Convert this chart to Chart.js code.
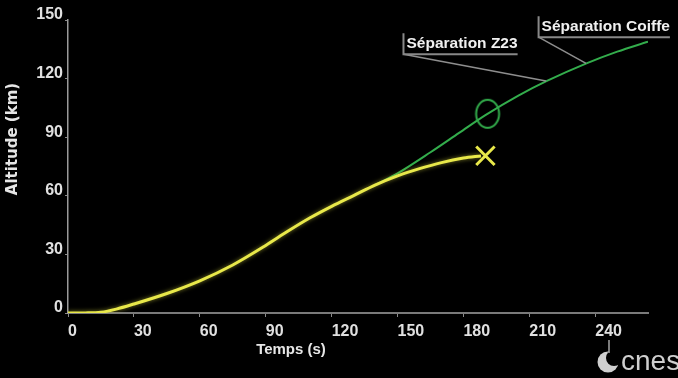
<!DOCTYPE html>
<html lang="fr">
<head>
<meta charset="utf-8">
<title>Altitude (km) / Temps (s)</title>
<script src="https://cdn.jsdelivr.net/npm/chart.js@4.4.1/dist/chart.umd.min.js"></script>
<style>
    html, body { margin: 0; padding: 0; background: #000; }
    #wrap { width: 678px; height: 378px; }
</style>
</head>
<body>
<div id="wrap"><canvas id="altitudeChart" width="678" height="378"></canvas></div>
<script>
// Flight (yellow) - measured trajectory
const flightTime = [0, 8, 15, 22, 30, 45, 60, 75, 90, 100, 110, 120, 130, 140, 150, 160, 170, 180, 188];
const flightAltitude = [0, 0.05, 0.4, 2.0, 4.6, 10.0, 16.5, 24.6, 34.6, 41.8, 48.6, 54.6, 60.1, 65.6, 70.2, 73.9, 77.0, 79.3, 80.4];

// Nominal trajectory (green)
const nominalTime = [140, 150, 165, 178, 190, 205, 218, 236, 250, 264];
const nominalAltitude = [65.6, 71.5, 82.3, 92.2, 101.3, 111.3, 118.8, 127.8, 133.8, 138.9];

// End of flight (X) and Z23 separation point (circle)
const endTime = [190];
const endAltitude = [80.5];
const circleTime = [191];
const circleAltitude = [102];

// Events pointed at on the nominal curve
const eventLabels = ["Séparation Z23", "Séparation Coiffe"];
const eventLabelTime = [152.7, 214.2];
const eventLabelAltitude = [132.5, 141.2];
const eventTime = [217.6, 235.8];
const eventAltitude = [118.8, 127.8];

// Axes
const xTickValues = [0, 30, 60, 90, 120, 150, 180, 210, 240];
const yTickValues = [0, 30, 60, 90, 120, 150];
const xTitle = "Temps (s)";
const yTitle = "Altitude (km)";

document.addEventListener("DOMContentLoaded", function () {
    const ctx = document.getElementById("altitudeChart").getContext("2d");

    const toPoints = (xs, ys) => xs.map((x, i) => ({ x: x, y: ys[i] }));

    // small green ellipse used as point style
    const ellipse = document.createElement("canvas");
    ellipse.width = 28;
    ellipse.height = 32;
    const ec = ellipse.getContext("2d");
    ec.strokeStyle = "#33ad4c";
    ec.lineWidth = 2;
    ec.beginPath();
    ec.ellipse(14, 16, 11.5, 14, 0, 0, Math.PI * 2);
    ec.stroke();

    const decorPlugin = {
        id: "decor",
        beforeDraw(chart) {
            const c = chart.ctx;
            c.save();
            c.fillStyle = "#000";
            c.fillRect(0, 0, chart.width, chart.height);
            c.restore();
        },
        beforeDatasetDraw(chart, args) {
            if (args.index === 1) {
                chart.ctx.save();
                chart.ctx.shadowColor = "rgba(235, 235, 70, 0.55)";
                chart.ctx.shadowBlur = 4;
            }
        },
        afterDatasetDraw(chart, args) {
            if (args.index === 1) chart.ctx.restore();
        },
        afterDraw(chart) {
            const c = chart.ctx;
            const xs = chart.scales.x;
            const ys = chart.scales.y;
            c.save();

            // axis titles
            c.fillStyle = "#e6e6e6";
            c.textAlign = "center";
            c.textBaseline = "middle";
            c.font = 'bold 15px "DejaVu Sans"';
            c.save();
            c.translate(13, 139);
            c.rotate(-Math.PI / 2);
            c.fillText(yTitle, 0, 0);
            c.restore();
            c.font = 'bold 15px "Liberation Sans"';
            c.fillText(xTitle, 291, 350);

            // event labels with leader lines
            c.font = 'bold 15.5px "Liberation Sans"';
            c.textAlign = "left";
            c.textBaseline = "alphabetic";
            for (let i = 0; i < eventLabels.length; i++)
            {
                const ax = xs.getPixelForValue(eventLabelTime[i]);
                const ay = ys.getPixelForValue(eventLabelAltitude[i]);
                const tx = xs.getPixelForValue(eventTime[i]);
                const ty = ys.getPixelForValue(eventAltitude[i]);
                const w = c.measureText(eventLabels[i]).width;

                c.strokeStyle = "#8e8e8e";
                c.lineWidth = 1.5;
                c.beginPath();
                c.moveTo(ax, ay);
                c.lineTo(tx, ty);
                c.stroke();

                c.strokeStyle = "#888";
                c.lineWidth = 2;
                c.beginPath();
                c.moveTo(ax, ay - 21);
                c.lineTo(ax, ay);
                c.lineTo(ax + w + 3, ay);
                c.stroke();

                c.fillStyle = "#f0f0f0";
                c.fillText(eventLabels[i], ax + 3, ay - 6);
            }

            // cnes logo, bottom right
            c.fillStyle = "#cfcfcf";
            c.beginPath();
            c.arc(608, 362, 10.5, 0, Math.PI * 2);
            c.fill();
            c.fillStyle = "#000";
            c.beginPath();
            c.arc(614, 358, 8, 0, Math.PI * 2);
            c.fill();
            c.strokeStyle = "#cfcfcf";
            c.lineWidth = 1.2;
            c.beginPath();
            c.moveTo(609, 340);
            c.lineTo(609, 353);
            c.stroke();
            c.fillStyle = "#cfcfcf";
            c.font = '28px "Liberation Sans"';
            c.fillText("cnes", 621, 370);

            c.restore();
        }
    };

    new Chart(ctx, {
        type: "line",
        data: {
            datasets: [
                {
                    label: "Fin de vol",
                    data: toPoints(endTime, endAltitude),
                    showLine: false,
                    pointStyle: "crossRot",
                    pointRadius: 13,
                    pointBorderWidth: 3,
                    pointBorderColor: "#e8e84a",
                    pointBackgroundColor: "#e8e84a",
                },
                {
                    label: "Vol",
                    data: toPoints(flightTime, flightAltitude),
                    borderColor: "#e8e84a",
                    borderWidth: 3,
                    pointRadius: 0,
                    cubicInterpolationMode: "monotone",
                    fill: false,
                },
                {
                    label: "Séparation Z23",
                    data: toPoints(circleTime, circleAltitude),
                    showLine: false,
                    pointStyle: ellipse,
                    pointRadius: 14,
                },
                {
                    label: "Nominal",
                    data: toPoints(nominalTime, nominalAltitude),
                    borderColor: "#33ad4c",
                    borderWidth: 2,
                    pointRadius: 0,
                    cubicInterpolationMode: "monotone",
                    fill: false,
                },
            ],
        },
        options: {
            responsive: false,
            animation: false,
            layout: {
                padding: { top: 20, right: 30, left: 0, bottom: 0 },
            },
            plugins: {
                legend: { display: false },
                tooltip: { enabled: false },
            },
            scales: {
                x: {
                    type: "linear",
                    min: 0,
                    max: 264,
                    afterFit(scale) { scale.height = 65; },
                    afterBuildTicks(scale) { scale.ticks = xTickValues.map((v) => ({ value: v })); },
                    border: { display: true, color: "#7a7a7a", width: 2 },
                    grid: { drawOnChartArea: false, drawTicks: true, tickLength: 4, color: "#8a8a8a" },
                    ticks: {
                        align: "start",
                        padding: 5,
                        color: "#e0e0e0",
                        font: { family: "Liberation Sans", size: 16, weight: "bold" },
                    },
                },
                y: {
                    type: "linear",
                    min: 0,
                    max: 150,
                    afterFit(scale) { scale.width = 68; },
                    afterBuildTicks(scale) { scale.ticks = yTickValues.map((v) => ({ value: v })); },
                    border: { display: true, color: "#9a9a9a", width: 1.5 },
                    grid: { drawOnChartArea: false, drawTicks: true, tickLength: 3, color: "#8a8a8a" },
                    ticks: {
                        padding: 2,
                        labelOffset: -5,
                        color: "#e0e0e0",
                        font: { family: "Liberation Sans", size: 16, weight: "bold" },
                    },
                },
            },
        },
        plugins: [decorPlugin],
    });
});
</script>
</body>
</html>
